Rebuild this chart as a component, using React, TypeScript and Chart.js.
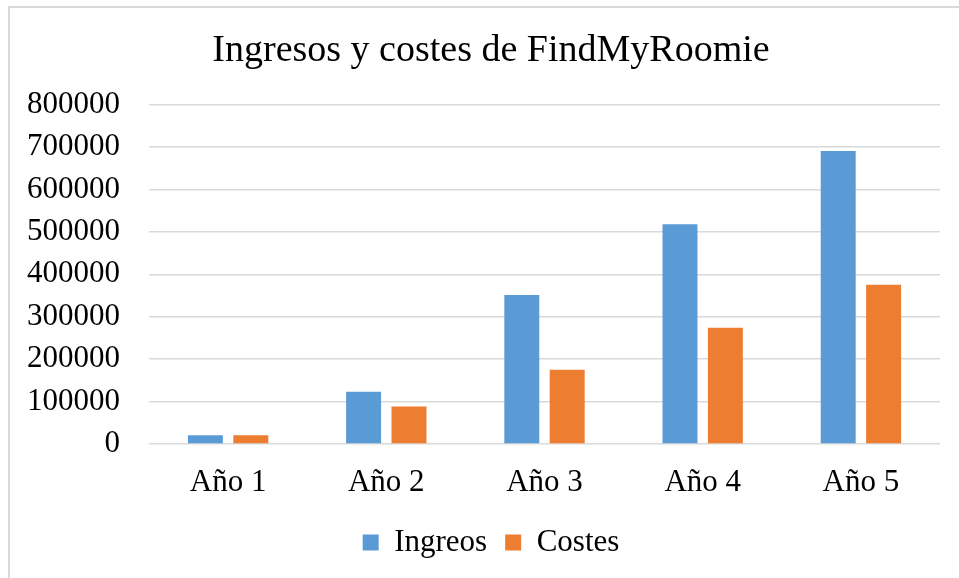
import React, { useEffect, useRef } from "react";
import { Chart, registerables } from "chart.js";

Chart.register(...registerables);

const categories = ["Año 1", "Año 2", "Año 3", "Año 4", "Año 5"];
const ingresos = [20500, 123000, 351000, 518000, 690500];
const costes = [20500, 88200, 175000, 274300, 375100];
const yTicks = [0, 100000, 200000, 300000, 400000, 500000, 600000, 700000, 800000];
const titleText = "Ingresos y costes de FindMyRoomie";
const seriesNames = ["Ingreos", "Costes"];

const FONT = "'Liberation Serif', 'Times New Roman', serif";

export default function App() {
  const ref = useRef<HTMLCanvasElement | null>(null);
  useEffect(() => {
    if (!ref.current) return;
    const chart = new Chart(ref.current, {
      type: "bar",
      data: {
        labels: categories,
        datasets: [
          { label: seriesNames[0], data: ingresos, backgroundColor: "#5B9BD5", categoryPercentage: 0.574, barPercentage: 0.77 },
          { label: seriesNames[1], data: costes, backgroundColor: "#ED7D31", categoryPercentage: 0.574, barPercentage: 0.77 },
        ],
      },
      options: {
        animation: false,
        responsive: false,
        layout: { padding: { left: 27, right: 4, top: 0, bottom: 10 } },
        plugins: {
          title: {
            display: true,
            text: titleText,
            color: "#000",
            font: { family: FONT, size: 38, weight: "normal" },
            padding: { top: 28, bottom: 31 },
          },
          legend: {
            position: "bottom",
            labels: {
              color: "#000",
              font: { family: FONT, size: 31 },
              boxWidth: 16,
              boxHeight: 16,
              padding: 18,
            },
          },
          tooltip: { enabled: false },
        },
        scales: {
          x: {
            grid: { display: false, drawTicks: false },
            border: { display: false },
            ticks: { color: "#000", font: { family: FONT, size: 31 }, padding: 20 },
            afterFit: (axis: any) => {
              axis.height = 65;
            },
          },
          y: {
            min: 0,
            max: 800000,
            afterBuildTicks: (axis: any) => {
              axis.ticks = yTicks.map((v) => ({ value: v }));
            },
            afterFit: (axis: any) => {
              axis.width = 122;
            },
            grid: { color: "#d9d9d9", lineWidth: 1.5, drawTicks: false },
            border: { display: false },
            ticks: {
              color: "#000",
              font: { family: FONT, size: 31 },
              padding: 29,
              callback: (v: any) => String(v),
            },
          },
          yRight: {
            type: "linear",
            position: "right",
            display: true,
            grid: { display: false, drawTicks: false },
            border: { display: false },
            ticks: { display: false },
            afterFit: (axis: any) => {
              axis.width = 15;
            },
          },
        },
      },
    });
    return () => chart.destroy();
  }, []);
  return (
    <div style={{ position: "fixed", left: 0, top: 0, width: 959, height: 578, background: "#fff", overflow: "hidden" }}>
      <div
        style={{
          position: "absolute",
          left: 8,
          top: 6,
          width: 1200,
          height: 1200,
          borderTop: "2px solid #d9d9d9",
          borderLeft: "2px solid #d9d9d9",
        }}
      />
      <canvas ref={ref} width={959} height={578} style={{ position: "absolute", left: 0, top: 0, width: 959, height: 578 }} />
    </div>
  );
}
